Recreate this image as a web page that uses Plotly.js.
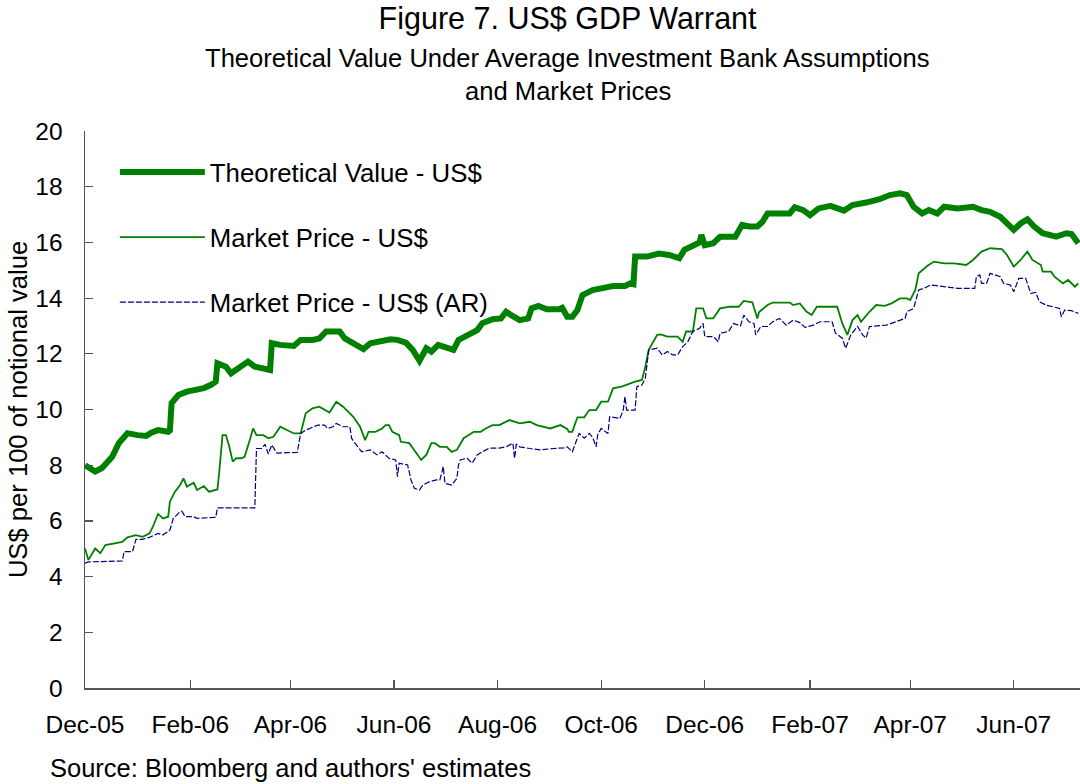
<!DOCTYPE html>
<html>
<head>
<meta charset="utf-8">
<script src="https://cdn.plot.ly/plotly-3.0.1.min.js"></script>
<style>html,body{margin:0;padding:0;background:#fff;}#chart{width:1080px;height:784px;}</style>
</head>
<body>
<div id="chart"></div>
<script>
// Theoretical Value - US$
var tvDates = ['2005-12-01','2005-12-07','2005-12-11','2005-12-17','2005-12-21','2005-12-26','2006-01-01','2006-01-06','2006-01-09','2006-01-13','2006-01-19','2006-01-20','2006-01-21','2006-01-25','2006-01-30','2006-02-05','2006-02-09','2006-02-13','2006-02-16','2006-02-17','2006-02-22','2006-02-25','2006-03-02','2006-03-07','2006-03-11','2006-03-16','2006-03-20','2006-03-21','2006-03-26','2006-04-03','2006-04-07','2006-04-14','2006-04-18','2006-04-22','2006-04-30','2006-05-03','2006-05-08','2006-05-14','2006-05-18','2006-05-23','2006-05-30','2006-06-03','2006-06-08','2006-06-12','2006-06-16','2006-06-20','2006-06-23','2006-06-27','2006-07-02','2006-07-06','2006-07-09','2006-07-14','2006-07-20','2006-07-23','2006-07-29','2006-08-03','2006-08-06','2006-08-09','2006-08-14','2006-08-19','2006-08-21','2006-08-25','2006-08-30','2006-09-06','2006-09-08','2006-09-11','2006-09-14','2006-09-17','2006-09-20','2006-09-26','2006-10-02','2006-10-08','2006-10-15','2006-10-18','2006-10-20','2006-10-21','2006-10-28','2006-11-04','2006-11-10','2006-11-16','2006-11-19','2006-11-24','2006-11-28','2006-11-29','2006-12-01','2006-12-06','2006-12-10','2006-12-19','2006-12-23','2006-12-27','2007-01-01','2007-01-04','2007-01-07','2007-01-20','2007-01-23','2007-01-28','2007-02-01','2007-02-06','2007-02-13','2007-02-21','2007-02-26','2007-03-06','2007-03-14','2007-03-20','2007-03-26','2007-03-30','2007-04-03','2007-04-08','2007-04-12','2007-04-17','2007-04-21','2007-04-29','2007-05-08','2007-05-13','2007-05-18','2007-05-24','2007-05-28','2007-06-01','2007-06-05','2007-06-09','2007-06-13','2007-06-18','2007-06-26','2007-07-02','2007-07-05','2007-07-09'];
var tvValues = [8.0,7.77,7.9,8.3,8.8,9.15,9.08,9.05,9.17,9.26,9.2,9.25,10.23,10.52,10.64,10.7,10.77,10.88,11.0,11.66,11.54,11.3,11.54,11.72,11.54,11.45,11.42,12.38,12.32,12.28,12.5,12.5,12.55,12.8,12.8,12.55,12.38,12.17,12.38,12.43,12.52,12.5,12.4,12.14,11.75,12.2,12.08,12.32,12.2,12.14,12.5,12.68,12.85,13.1,13.24,13.27,13.51,13.39,13.21,13.27,13.63,13.72,13.6,13.6,13.65,13.33,13.33,13.57,14.11,14.29,14.35,14.43,14.43,14.53,14.5,15.49,15.49,15.6,15.55,15.43,15.73,15.9,16.0,16.27,15.9,15.97,16.2,16.2,16.63,16.57,16.57,16.74,17.04,17.04,17.26,17.16,16.98,17.22,17.31,17.14,17.34,17.43,17.55,17.7,17.76,17.7,17.28,17.04,17.16,17.04,17.28,17.22,17.28,17.16,17.1,16.92,16.68,16.45,16.68,16.83,16.57,16.33,16.21,16.33,16.3,15.97];

// Market Price - US$
var mpDates = ['2005-12-01','2005-12-03','2005-12-07','2005-12-10','2005-12-13','2005-12-18','2005-12-23','2005-12-26','2005-12-31','2006-01-04','2006-01-08','2006-01-10','2006-01-13','2006-01-16','2006-01-19','2006-01-20','2006-01-23','2006-01-26','2006-01-28','2006-01-30','2006-02-03','2006-02-05','2006-02-09','2006-02-12','2006-02-17','2006-02-18','2006-02-20','2006-02-22','2006-02-24','2006-02-26','2006-02-28','2006-03-03','2006-03-05','2006-03-08','2006-03-10','2006-03-12','2006-03-16','2006-03-19','2006-03-22','2006-03-26','2006-03-30','2006-04-03','2006-04-07','2006-04-10','2006-04-14','2006-04-18','2006-04-24','2006-04-28','2006-05-02','2006-05-06','2006-05-08','2006-05-12','2006-05-15','2006-05-17','2006-05-21','2006-05-25','2006-05-27','2006-05-29','2006-05-31','2006-06-04','2006-06-05','2006-06-10','2006-06-14','2006-06-17','2006-06-20','2006-06-23','2006-06-25','2006-06-28','2006-07-02','2006-07-05','2006-07-08','2006-07-12','2006-07-18','2006-07-22','2006-07-25','2006-07-29','2006-08-02','2006-08-08','2006-08-14','2006-08-20','2006-08-24','2006-09-01','2006-09-07','2006-09-11','2006-09-12','2006-09-14','2006-09-17','2006-09-21','2006-09-24','2006-09-28','2006-10-01','2006-10-05','2006-10-08','2006-10-13','2006-10-21','2006-10-25','2006-10-27','2006-10-29','2006-11-03','2006-11-05','2006-11-09','2006-11-15','2006-11-18','2006-11-20','2006-11-24','2006-11-26','2006-11-30','2006-12-02','2006-12-06','2006-12-10','2006-12-16','2006-12-21','2006-12-24','2006-12-29','2007-01-01','2007-01-02','2007-01-07','2007-01-10','2007-01-20','2007-01-22','2007-01-26','2007-01-30','2007-02-02','2007-02-05','2007-02-17','2007-02-20','2007-02-23','2007-02-26','2007-03-01','2007-03-03','2007-03-08','2007-03-12','2007-03-17','2007-03-21','2007-03-26','2007-03-30','2007-04-01','2007-04-04','2007-04-06','2007-04-11','2007-04-15','2007-04-21','2007-04-27','2007-05-04','2007-05-08','2007-05-13','2007-05-18','2007-05-25','2007-05-28','2007-06-01','2007-06-05','2007-06-09','2007-06-12','2007-06-17','2007-06-18','2007-06-23','2007-06-25','2007-06-30','2007-07-03','2007-07-07','2007-07-09'];
var mpValues = [5.01,4.6,5.01,4.84,5.13,5.2,5.25,5.41,5.49,5.43,5.55,5.79,6.25,6.09,6.15,6.69,7.05,7.29,7.53,7.23,7.37,7.11,7.25,7.05,7.13,7.71,9.08,9.08,8.66,8.13,8.25,8.25,8.3,8.9,9.32,9.08,9.08,8.97,9.02,9.38,9.26,9.14,9.14,9.86,10.04,10.1,9.89,10.28,10.1,9.86,9.74,9.38,8.9,9.2,9.2,9.32,9.44,9.44,9.2,9.08,8.84,8.79,8.43,8.19,8.37,8.79,8.79,8.66,8.66,8.48,8.55,8.97,9.2,9.2,9.32,9.44,9.44,9.62,9.5,9.56,9.44,9.32,9.44,9.3,9.2,9.2,9.72,9.72,9.98,9.98,10.28,10.28,10.76,10.82,11.0,11.06,11.54,12.14,12.68,12.7,12.62,12.62,12.43,12.8,12.8,13.63,13.63,13.27,13.27,13.63,13.69,13.69,13.9,13.85,13.27,13.5,13.75,13.84,13.84,13.75,13.81,13.51,13.39,13.69,13.69,13.09,12.68,13.21,13.39,13.15,13.51,13.75,13.72,13.81,13.99,13.99,13.93,14.29,14.89,15.15,15.31,15.25,15.25,15.19,15.37,15.67,15.79,15.76,15.55,15.13,15.37,15.67,15.37,15.19,14.95,14.95,14.77,14.53,14.65,14.41,14.53];

// Market Price - US$ (AR)
var arDates = ['2005-12-01','2005-12-03','2005-12-23','2005-12-24','2005-12-29','2005-12-31','2006-01-04','2006-01-08','2006-01-13','2006-01-16','2006-01-20','2006-01-22','2006-01-26','2006-01-27','2006-01-29','2006-02-03','2006-02-05','2006-02-16','2006-02-17','2006-03-11','2006-03-12','2006-03-15','2006-03-17','2006-03-19','2006-03-21','2006-03-24','2006-03-30','2006-04-05','2006-04-07','2006-04-10','2006-04-17','2006-04-21','2006-04-23','2006-04-26','2006-04-28','2006-05-02','2006-05-06','2006-05-07','2006-05-09','2006-05-13','2006-05-18','2006-05-22','2006-05-25','2006-05-29','2006-06-02','2006-06-03','2006-06-04','2006-06-09','2006-06-11','2006-06-13','2006-06-16','2006-06-18','2006-06-22','2006-06-26','2006-06-28','2006-06-30','2006-07-01','2006-07-05','2006-07-08','2006-07-09','2006-07-10','2006-07-14','2006-07-17','2006-07-20','2006-07-23','2006-07-27','2006-08-02','2006-08-06','2006-08-10','2006-08-11','2006-08-12','2006-08-14','2006-08-20','2006-08-26','2006-09-03','2006-09-09','2006-09-11','2006-09-14','2006-09-18','2006-09-21','2006-09-24','2006-09-26','2006-09-28','2006-09-29','2006-10-01','2006-10-05','2006-10-06','2006-10-12','2006-10-14','2006-10-15','2006-10-16','2006-10-21','2006-10-22','2006-10-25','2006-10-27','2006-10-29','2006-11-03','2006-11-06','2006-11-09','2006-11-12','2006-11-15','2006-11-18','2006-11-21','2006-11-24','2006-11-28','2006-11-30','2006-12-01','2006-12-06','2006-12-09','2006-12-10','2006-12-15','2006-12-18','2006-12-22','2006-12-24','2006-12-27','2006-12-30','2006-12-31','2007-01-03','2007-01-07','2007-01-10','2007-01-14','2007-01-18','2007-01-22','2007-01-26','2007-01-29','2007-02-03','2007-02-07','2007-02-14','2007-02-16','2007-02-20','2007-02-22','2007-02-25','2007-03-01','2007-03-04','2007-03-06','2007-03-08','2007-03-18','2007-03-24','2007-03-29','2007-03-30','2007-04-03','2007-04-06','2007-04-09','2007-04-13','2007-04-21','2007-04-29','2007-05-09','2007-05-10','2007-05-12','2007-05-13','2007-05-16','2007-05-18','2007-05-24','2007-05-26','2007-05-30','2007-06-01','2007-06-04','2007-06-08','2007-06-11','2007-06-14','2007-06-16','2007-06-20','2007-06-24','2007-06-28','2007-06-29','2007-07-01','2007-07-05','2007-07-07','2007-07-09'];
var arValues = [4.48,4.53,4.56,4.9,4.9,5.34,5.34,5.41,5.55,5.5,5.67,6.09,6.33,6.35,6.15,6.15,6.09,6.13,6.47,6.47,8.6,8.6,8.75,8.4,8.73,8.43,8.45,8.46,9.14,9.26,9.44,9.44,9.32,9.38,9.5,9.38,9.38,8.97,8.79,8.48,8.55,8.37,8.48,8.25,8.19,7.59,8.07,8.01,7.47,7.17,7.11,7.29,7.41,7.47,7.47,7.95,7.35,7.29,7.53,8.01,8.19,8.25,8.07,8.37,8.48,8.61,8.61,8.66,8.79,8.25,8.75,8.66,8.6,8.55,8.6,8.62,8.66,8.48,9.14,8.97,9.14,9.0,8.66,9.1,9.32,9.14,9.74,9.68,9.98,10.46,9.98,9.98,10.82,10.88,11.12,12.14,12.2,11.96,12.08,11.96,11.96,12.26,12.43,12.8,12.92,13.09,12.62,12.62,12.43,12.74,12.8,13.09,13.0,13.39,13.15,13.09,12.68,12.98,12.98,13.15,13.27,13.03,13.21,13.12,12.95,13.03,13.15,13.15,12.74,12.56,12.2,12.68,12.98,12.68,12.56,12.98,13.03,13.15,13.27,13.51,13.63,14.29,14.35,14.47,14.41,14.35,14.35,14.77,14.83,14.53,14.53,14.89,14.77,14.53,14.47,14.23,14.71,14.71,14.17,14.2,13.87,13.75,13.69,13.63,13.33,13.57,13.55,13.51,13.45];

var seriesNames = ['Theoretical Value - US$', 'Market Price - US$', 'Market Price - US$ (AR)'];
var yTickVals = [0,2,4,6,8,10,12,14,16,18,20];

var FONT = 'Liberation Sans, Arial, sans-serif';

var traces = [
  {x: tvDates, y: tvValues, name: seriesNames[0], type: 'scatter', mode: 'lines', legendgroup: 'a',
   line: {color: '#008000', width: 6}},
  {x: mpDates, y: mpValues, name: seriesNames[1], type: 'scatter', mode: 'lines', legendgroup: 'b',
   line: {color: '#008000', width: 1.8}},
  {x: arDates, y: arValues, name: seriesNames[2], type: 'scatter', mode: 'lines', legendgroup: 'c',
   line: {color: '#000080', width: 1.2, dash: '6px,2px'}}
];

var layout = {
  width: 1080, height: 784,
  margin: {l: 85, r: 0, t: 131, b: 96},
  paper_bgcolor: '#ffffff', plot_bgcolor: '#ffffff',
  font: {family: FONT, color: '#000000', size: 24},
  showlegend: true,
  legend: {
    x: 0.03, y: 0.968, xanchor: 'left', yanchor: 'top',
    bgcolor: 'rgba(0,0,0,0)', borderwidth: 0,
    font: {family: FONT, size: 25.8, color: '#000'},
    tracegroupgap: 28.5, itemwidth: 85
  },
  title: {
    text: 'Figure 7. US$ GDP Warrant',
    font: {family: FONT, size: 30.5, color: '#000'},
    x: 0.485, xanchor: 'center', xref: 'paper',
    y: 0.99, yanchor: 'top'
  },
  annotations: [
    {text: 'Theoretical Value Under Average Investment Bank Assumptions', xref: 'paper', yref: 'paper',
     x: 0.485, y: 1.131, xanchor: 'center', yanchor: 'middle', showarrow: false,
     font: {family: FONT, size: 25.6, color: '#000'}},
    {text: 'and Market Prices', xref: 'paper', yref: 'paper',
     x: 0.485, y: 1.072, xanchor: 'center', yanchor: 'middle', showarrow: false,
     font: {family: FONT, size: 25.6, color: '#000'}},
    {text: "Source: Bloomberg and authors' estimates", xref: 'paper', yref: 'paper',
     x: -0.037, y: -0.143, xanchor: 'left', yanchor: 'middle', showarrow: false,
     font: {family: FONT, size: 25.5, color: '#000'}}
  ],
  xaxis: {
    type: 'date',
    range: ['2005-12-01', '2007-07-10'],
    tick0: '2005-12-01', dtick: 'M2', tickformat: '%b-%y',
    ticks: 'inside', ticklen: 8, tickcolor: '#555', tickwidth: 1.2,
    showline: true, linecolor: '#555', linewidth: 1.5,
    showgrid: false, zeroline: false,
    ticklabelstandoff: 14,
    tickfont: {family: FONT, size: 24.5, color: '#000'}
  },
  yaxis: {
    range: [0, 20],
    tickvals: yTickVals,
    ticks: 'inside', ticklen: 8, tickcolor: '#555', tickwidth: 1.2,
    showline: true, linecolor: '#555', linewidth: 1.5,
    showgrid: false, zeroline: false,
    ticklabelstandoff: 16,
    tickfont: {family: FONT, size: 24.5, color: '#000'},
    title: {text: 'US$ per 100 of notional value', standoff: 0,
            font: {family: FONT, size: 25.6, color: '#000'}}
  }
};

Plotly.newPlot('chart', traces, layout, {displayModeBar: false, staticPlot: true});
</script>
</body>
</html>
